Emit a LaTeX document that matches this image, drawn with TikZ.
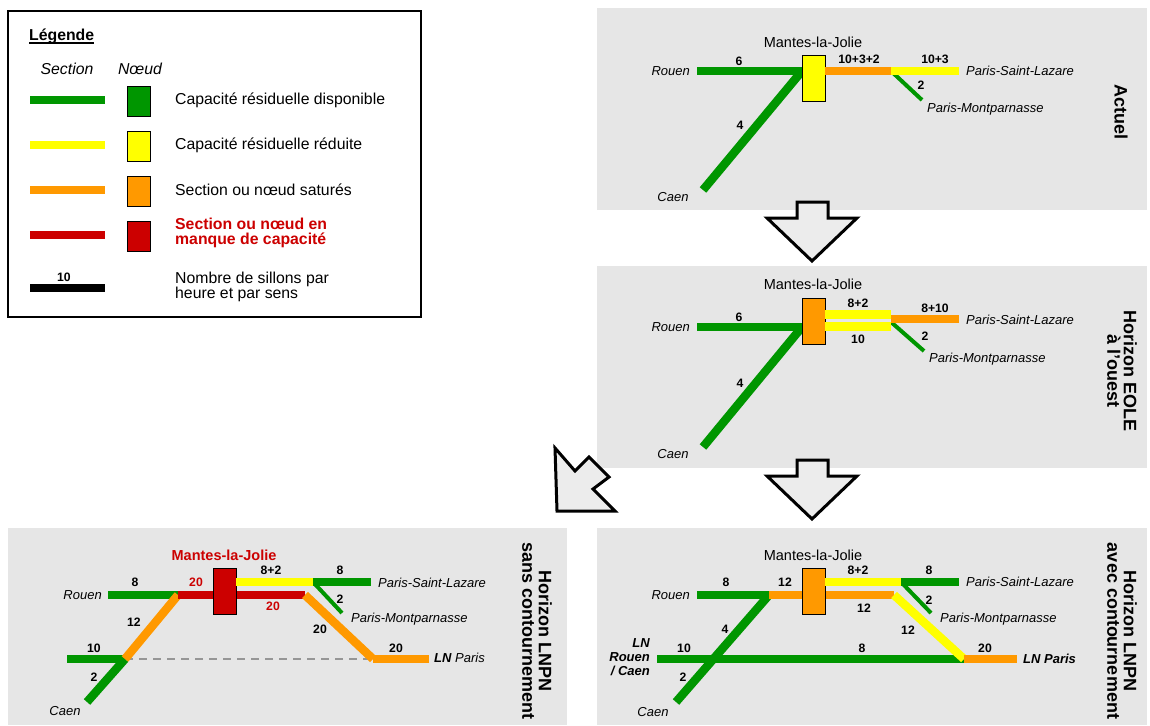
\documentclass[tikz,border=0pt]{standalone}
\usepackage{fontspec}
\setmainfont{Liberation Sans}

\definecolor{cgreen}{RGB}{0,150,0}
\definecolor{cyellow}{RGB}{255,255,0}
\definecolor{corange}{RGB}{255,153,0}
\definecolor{cred}{RGB}{204,0,0}
\definecolor{panelgray}{RGB}{230,230,230}
\definecolor{arrowgray}{RGB}{236,236,236}
\definecolor{dashgray}{RGB}{150,150,150}

\tikzset{
  sec/.style={line width=8.5pt},
  gsec/.style={sec, draw=cgreen},
  ysec/.style={sec, draw=cyellow},
  osec/.style={sec, draw=corange},
  rsec/.style={sec, draw=cred},
  ksec/.style={sec, draw=black},
  branch/.style={line width=4pt, draw=cgreen},
  stnbox/.style={draw=black, line width=0.8pt, minimum width=23pt, minimum height=46pt, inner sep=0pt},
  keybox/.style={draw=black, line width=0.8pt, minimum width=23pt, minimum height=30pt, inner sep=0pt},
  lbl/.style={inner sep=0pt, font=\fontsize{13}{14}\selectfont\itshape},
  lnlbl/.style={inner sep=0pt, font=\fontsize{13}{14}\selectfont\bfseries\itshape},
  num/.style={inner sep=0pt, font=\fontsize{12.2}{14}\selectfont\bfseries},
  stn/.style={inner sep=0pt, font=\fontsize{14.5}{16}\selectfont},
  ttl/.style={inner sep=0pt, rotate=-90, align=center, font=\fontsize{18}{16.5}\selectfont\bfseries},
  panel/.style={fill=panelgray, draw=none},
  bigarrow/.style={fill=arrowgray, draw=black, line width=3pt, line join=miter},
  keytxt/.style={inner sep=0pt, anchor=west, align=left, font=\fontsize{15.8}{14.7}\selectfont},
  keyhead/.style={inner sep=0pt, font=\fontsize{15.8}{16}\selectfont\itshape},
  bypass/.style={line width=2pt, draw=dashgray, dash pattern=on 8pt off 6pt},
}

\begin{document}
\begin{tikzpicture}[x=1pt, y=-1pt]
\path[use as bounding box, fill=white] (0,0) rectangle (1150,725);

% ---------------- Legend ----------------
\draw[line width=2pt] (8,11) rectangle (421,317);
\node[anchor=base west, inner sep=0pt, font=\fontsize{15.8}{16}\selectfont\bfseries] (legtitle) at (29,41) {Légende};
\draw[line width=1.3pt] ([yshift=-2pt]legtitle.base west) -- ([yshift=-2pt]legtitle.base east);
\node[keyhead] (hsec) at (67,69) {Section};
\node[keyhead] (hnode) at (140,69) {Nœud};

\draw[gsec] (30,100) -- (105,100);
\draw[ysec] (30,145) -- (105,145);
\draw[osec] (30,190) -- (105,190);
\draw[rsec] (30,235) -- (105,235);
\draw[ksec] (30,288) -- (105,288);
\node[num] (k10) at (64,277) {10};

\node[keybox, fill=cgreen] (kg) at (138.5,101) {};
\node[keybox, fill=cyellow] (ky) at (138.5,146) {};
\node[keybox, fill=corange] (ko) at (138.5,191) {};
\node[keybox, fill=cred] (kr) at (138.5,236) {};

\node[keytxt] (tg) at (175,100) {Capacité résiduelle disponible};
\node[keytxt] (ty) at (175,145) {Capacité résiduelle réduite};
\node[keytxt] (to) at (175,190) {Section ou nœud saturés};
\node[keytxt, text=cred, font=\fontsize{15.8}{14.7}\selectfont\bfseries] (tr) at (175,233) {Section ou nœud en\\manque de capacité};
\node[keytxt] (tk) at (175,287) {Nombre de sillons par\\heure et par sens};

% ---------------- Panel: Actuel ----------------
\fill[panel] (597,8) rectangle (1147,210);
\coordinate (A-rou) at (697,71);
\coordinate (A-j) at (802,71);
\coordinate (A-k) at (891,71);
\coordinate (A-psl) at (959,71);
\coordinate (A-mp) at (922,100);
\coordinate (A-caen) at (703,190);
\draw[branch] (A-k) -- (A-mp);
\draw[gsec] (A-rou) -- (A-j);
\draw[gsec] (A-caen) -- (A-j);
\node[stnbox, fill=cyellow] (A-box) at (813.5,78) {};
\draw[osec] (A-box.east |- A-j) -- (A-k);
\draw[ysec] (A-k) -- (A-psl);
\node[stn] at (813,42) {Mantes-la-Jolie};
\node[lbl, anchor=east] at (690,71) {Rouen};
\node[num] at (739,61) {6};
\node[num] at (859,59) {10+3+2};
\node[num] at (935,59) {10+3};
\node[lbl, anchor=west] at (966,71) {Paris-Saint-Lazare};
\node[num] at (921,85) {2};
\node[lbl, anchor=west] at (927,109) {Paris-Montparnasse};
\node[num] at (740,125) {4};
\node[lbl] at (673,197) {Caen};
\node[ttl] at (1121,112) {Actuel};

% ---------------- Panel: Horizon EOLE ----------------
\fill[panel] (597,266) rectangle (1147,468);
\coordinate (B-rou) at (697,327);
\coordinate (B-j) at (802,327);
\coordinate (B-k) at (891,319);
\coordinate (B-psl) at (959,319);
\coordinate (B-mp) at (924,351);
\coordinate (B-caen) at (703,447);
\draw[branch] ([yshift=-3pt]B-k) -- (B-mp);
\draw[gsec] (B-rou) -- (B-j);
\draw[gsec] (B-caen) -- (B-j);
\node[stnbox, fill=corange] (B-box) at (813.5,321.5) {};
\draw[sec, draw=cyellow, line width=9pt] (B-box.east |- 0,314) -- (B-k |- 0,314);
\draw[sec, draw=cyellow, line width=9pt] (B-box.east |- 0,326) -- (B-k |- 0,326);
\draw[osec] (B-k) -- (B-psl);
\node[stn] at (813,284) {Mantes-la-Jolie};
\node[lbl, anchor=east] at (690,327) {Rouen};
\node[num] at (739,317) {6};
\node[num] at (858,303) {8+2};
\node[num] at (858,339) {10};
\node[num] at (935,308) {8+10};
\node[lbl, anchor=west] at (966,320) {Paris-Saint-Lazare};
\node[num] at (925,336) {2};
\node[lbl, anchor=west] at (929,359) {Paris-Montparnasse};
\node[num] at (740,383) {4};
\node[lbl] at (673,454) {Caen};
\node[ttl] at (1122,371) {Horizon EOLE\\à l'ouest};

% ---------------- Panel: Horizon LNPN avec contournement ----------------
\fill[panel] (597,528) rectangle (1147,725);
\coordinate (C-rou) at (697,595);
\coordinate (C-j) at (769,595);
\coordinate (C-e) at (894,595);
\coordinate (C-k) at (901,582);
\coordinate (C-psl) at (959,582);
\coordinate (C-mp) at (931,613);
\coordinate (C-lnw) at (657,659);
\coordinate (C-lnj) at (964,659);
\coordinate (C-lnp) at (1017,659);
\coordinate (C-caen) at (676,702);
\draw[branch] (C-k) -- (C-mp);
\draw[gsec] (C-rou) -- (C-j);
\draw[gsec] (C-lnw) -- (C-lnj);
\draw[gsec] (C-caen) -- (C-j);
\draw[osec] (C-j) -- (C-e);
\draw[ysec] (C-e) -- (C-lnj);
\draw[osec] (C-lnj) -- (C-lnp);
\node[stnbox, fill=corange] (C-box) at (813.5,591) {};
\draw[ysec] (C-box.east |- C-k) -- (C-k);
\draw[gsec] (C-k) -- (C-psl);
\node[stn] at (813,555) {Mantes-la-Jolie};
\node[lbl, anchor=east] at (690,595) {Rouen};
\node[num] at (726,582) {8};
\node[num] at (785,582) {12};
\node[num] at (858,570) {8+2};
\node[num] at (929,570) {8};
\node[lbl, anchor=west] at (966,582) {Paris-Saint-Lazare};
\node[num] at (929,600) {2};
\node[lbl, anchor=west] at (940,619) {Paris-Montparnasse};
\node[num] at (864,608) {12};
\node[num] at (908,630) {12};
\node[num] at (725,629) {4};
\node[num] at (684,648) {10};
\node[num] at (862,648) {8};
\node[num] at (985,648) {20};
\node[lnlbl, anchor=west] at (1023,659) {LN Paris};
\node[lnlbl, anchor=east, align=right] at (650,657) {LN\\Rouen\\/ Caen};
\node[num] at (683,677) {2};
\node[lbl] at (653,712) {Caen};
\node[ttl] at (1122,631) {Horizon LNPN\\avec contournement};

% ---------------- Panel: Horizon LNPN sans contournement ----------------
\fill[panel] (8,528) rectangle (567,725);
\coordinate (D-rou) at (108,595);
\coordinate (D-j) at (178,595);
\coordinate (D-e) at (305,595);
\coordinate (D-k) at (313,582);
\coordinate (D-psl) at (371,582);
\coordinate (D-mp) at (342,613);
\coordinate (D-lnw) at (67,659);
\coordinate (D-lnj) at (125,659);
\coordinate (D-lne) at (373,659);
\coordinate (D-lnp) at (429,659);
\coordinate (D-caen) at (87,702);
\draw[bypass] (D-lnj) -- (D-lne);
\draw[branch] (D-k) -- (D-mp);
\draw[gsec] (D-rou) -- (D-j);
\draw[gsec] (D-lnw) -- (D-lnj);
\draw[gsec] (D-caen) -- (D-lnj);
\draw[osec] (D-lnj) -- (D-j);
\draw[rsec] (D-j) -- (D-e);
\draw[osec] (D-e) -- (D-lne);
\draw[osec] (D-lne) -- (D-lnp);
\node[stnbox, fill=cred] (D-box) at (224.5,591) {};
\draw[ysec] (D-box.east |- D-k) -- (D-k);
\draw[gsec] (D-k) -- (D-psl);
\node[stn, text=cred, font=\fontsize{14.5}{16}\selectfont\bfseries] at (224,555) {Mantes-la-Jolie};
\node[lbl, anchor=east] at (102,595) {Rouen};
\node[num] at (135,582) {8};
\node[num, text=cred] at (196,582) {20};
\node[num] at (271,570) {8+2};
\node[num] at (340,570) {8};
\node[lbl, anchor=west] at (378,583) {Paris-Saint-Lazare};
\node[num] at (340,599) {2};
\node[lbl, anchor=west] at (351,619) {Paris-Montparnasse};
\node[num, text=cred] at (273,606) {20};
\node[num] at (320,629) {20};
\node[num] at (396,648) {20};
\node[lbl, anchor=west] at (434,658) {\textbf{LN} Paris};
\node[num] at (134,622) {12};
\node[num] at (94,648) {10};
\node[num] at (94,677) {2};
\node[lbl] at (65,711) {Caen};
\node[ttl] at (537,631) {Horizon LNPN\\sans contournement};

% ---------------- Transition arrows ----------------
\draw[bigarrow] (797,202) -- (828,202) -- (828,218) -- (857,218) -- (812,261) -- (767,218) -- (797,218) -- cycle;
\draw[bigarrow] (797,460) -- (828,460) -- (828,476) -- (857,476) -- (812,519) -- (767,476) -- (797,476) -- cycle;
\draw[bigarrow] (555,448) -- (575,471) -- (589,457) -- (609,477) -- (593,489) -- (615,511) -- (557,511) -- cycle;
\end{tikzpicture}
\end{document}
